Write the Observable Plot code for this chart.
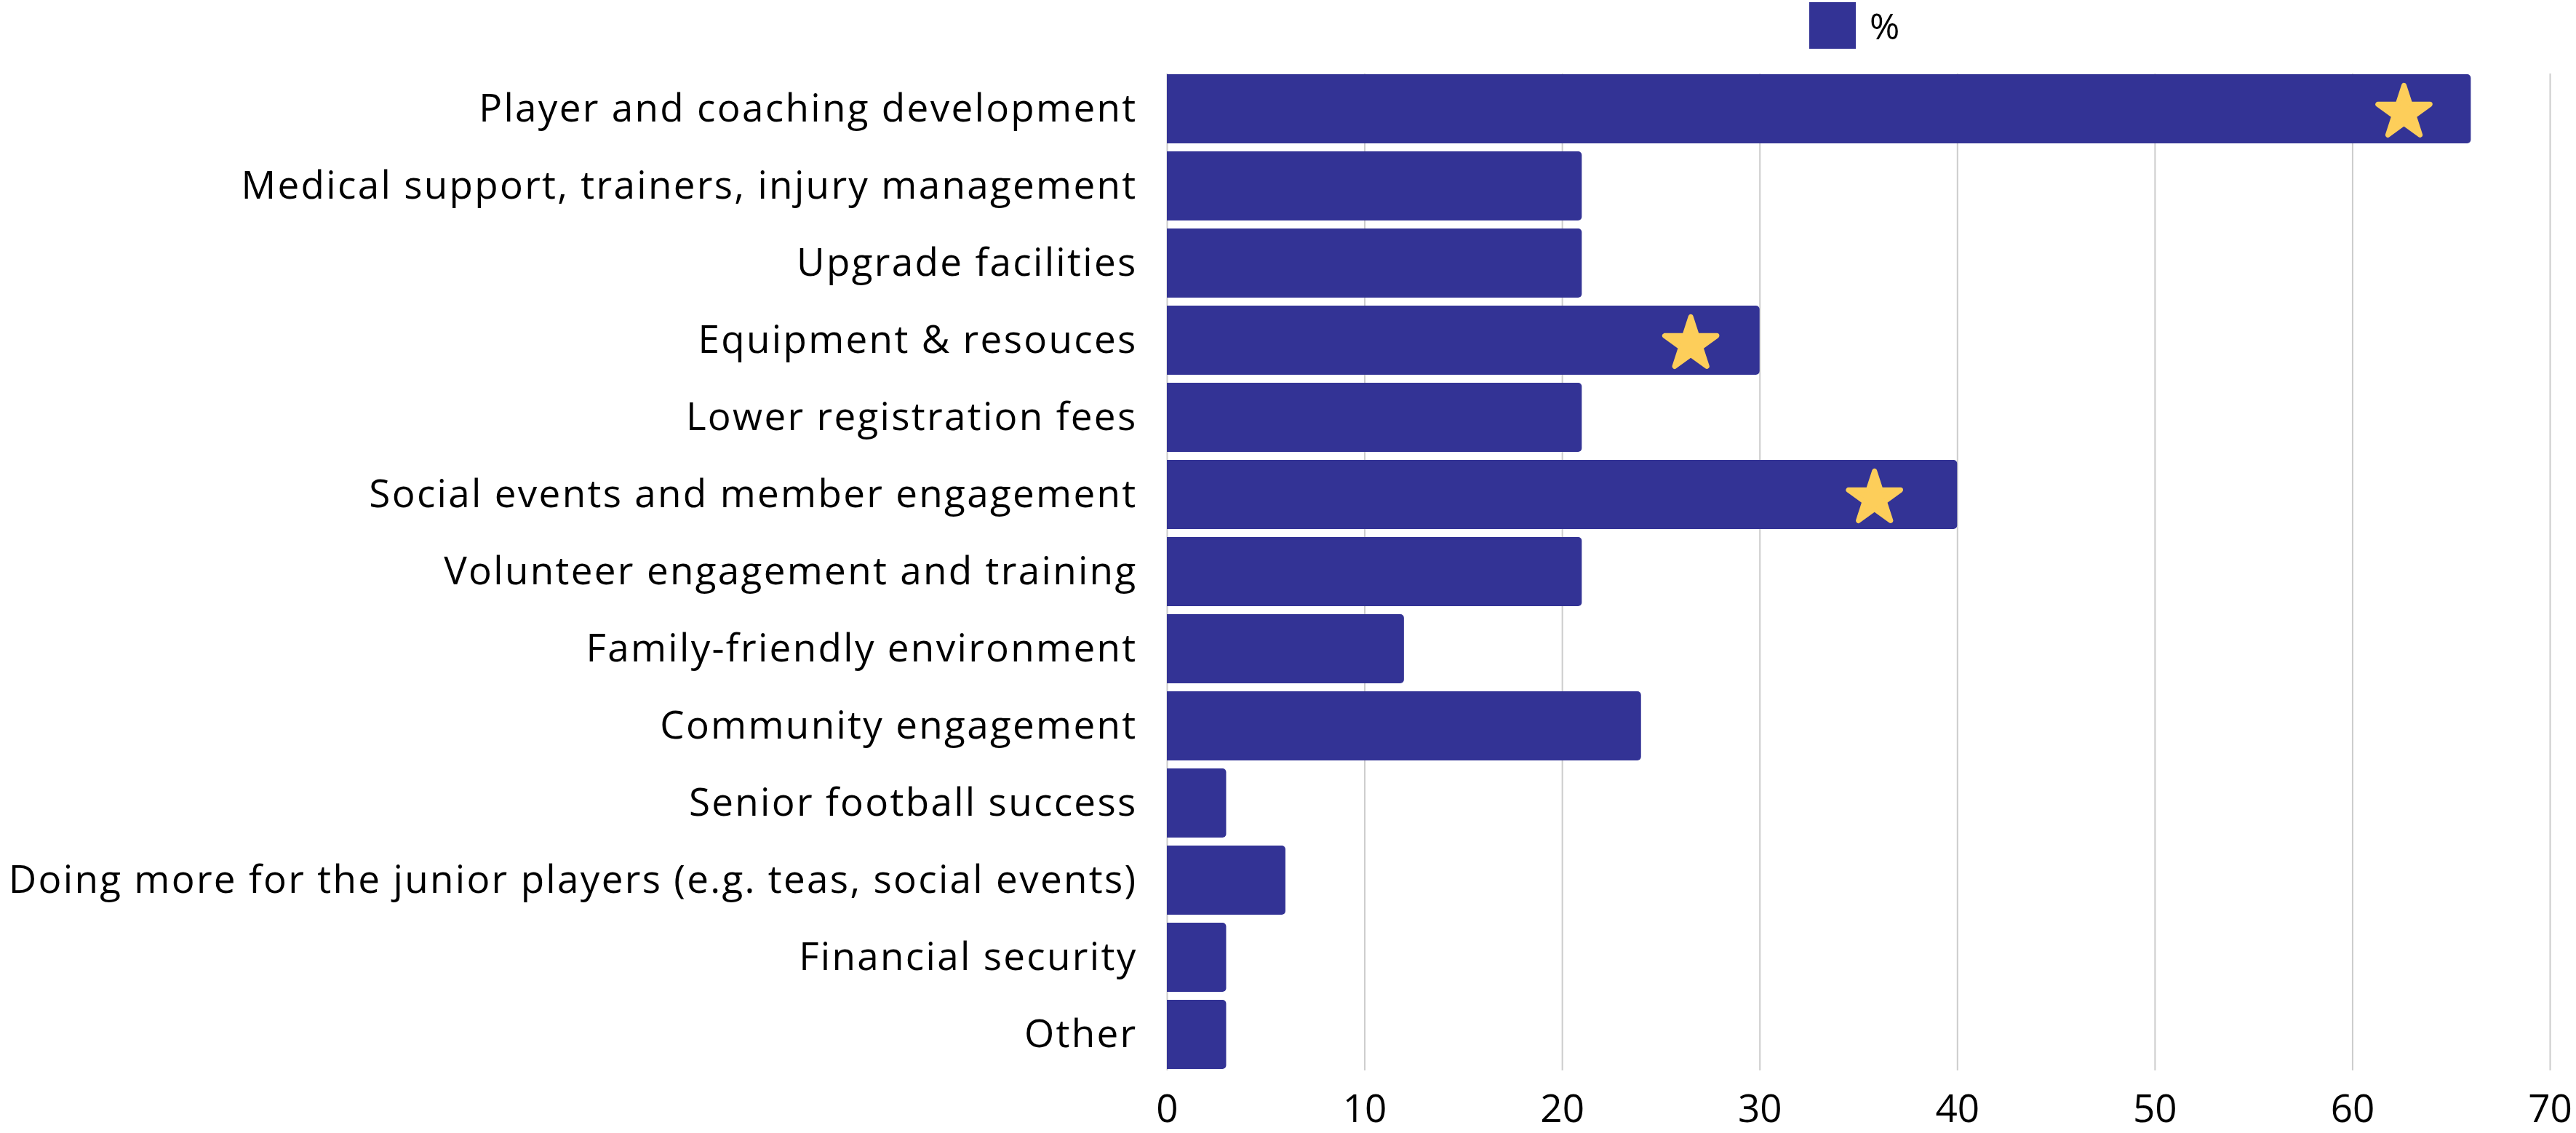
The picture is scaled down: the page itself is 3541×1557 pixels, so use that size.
<!DOCTYPE html>
<html>
<head>
<meta charset="utf-8">
<script src="https://cdn.jsdelivr.net/npm/d3@7"></script>
<script src="https://cdn.jsdelivr.net/npm/@observablehq/plot@0.6"></script>
<style>
  html, body { margin: 0; padding: 0; background: #fff; }
  body { width: 3541px; height: 1557px; overflow: hidden; font-family: "Open Sans", sans-serif; }
  #legend { position: relative; height: 90px; }
  #legend .sw { position: absolute; left: 2487px; top: 3px; width: 64px; height: 64px; background: #333395; }
  #legend .lb { position: absolute; left: 2570px; top: 0px; line-height: 70px; font-size: 50px; color: #000; }
  #chart g[aria-label="y-axis tick label"] text { letter-spacing: 2.3px; }
</style>
</head>
<body>
<div id="legend"><div class="sw"></div><div class="lb">%</div></div>
<div id="chart"></div>
<script>
const categories = [
  "Player and coaching development",
  "Medical support, trainers, injury management",
  "Upgrade facilities",
  "Equipment & resouces",
  "Lower registration fees",
  "Social events and member engagement",
  "Volunteer engagement and training",
  "Family-friendly environment",
  "Community engagement",
  "Senior football success",
  "Doing more for the junior players (e.g. teas, social events)",
  "Financial security",
  "Other"
];
const values = [66, 21, 21, 30, 21, 40, 21, 12, 24, 3, 6, 3, 3];
const starCategories = ["Player and coaching development", "Equipment & resouces", "Social events and member engagement"];
const starPositions = [62.6, 26.5, 35.8];
const xTicks = [0, 10, 20, 30, 40, 50, 60, 70];

const bars = categories.map((c, i) => ({category: c, value: values[i]}));
const stars = starCategories.map((c, i) => ({category: c, pos: starPositions[i]}));

const chart = Plot.plot({
  width: 3541,
  height: 1467,
  marginTop: 11,
  marginBottom: 86,
  marginLeft: 1604,
  marginRight: 36,
  style: {fontFamily: "Open Sans, sans-serif", fontSize: "52px", color: "#000", background: "#fff"},
  x: {domain: [0, 70], ticks: xTicks, label: null, grid: false},
  y: {domain: categories, paddingInner: 0.1, paddingOuter: 0, label: null},
  marks: [
    Plot.ruleX(xTicks, {stroke: "#cccccc", strokeWidth: 2}),
    Plot.barX(bars, {x: "value", y: "category", fill: "#333395", rx2: 5}),
    Plot.dot(stars, {x: "pos", y: "category", symbol: "star", r: 22.5, fill: "#FDCE5A", stroke: "#FDCE5A", strokeWidth: 7, strokeLinejoin: "round", dy: 5}),
    Plot.axisX({ticks: xTicks, tickSize: 0, tickPadding: 33, fontSize: 53, label: null}),
    Plot.axisY({tickSize: 0, tickPadding: 41, fontSize: 53, label: null})
  ]
});
document.getElementById("chart").appendChild(chart);
</script>
</body>
</html>
